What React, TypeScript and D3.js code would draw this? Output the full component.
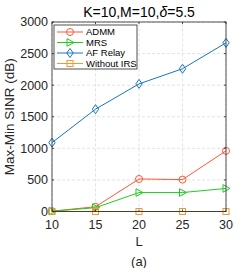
import React from 'react';
import * as d3 from 'd3';

const L = [10, 15, 20, 25, 30];
const admm = [5, 75, 515, 505, 960];
const mrs = [5, 60, 300, 300, 365];
const afRelay = [1090, 1620, 2020, 2260, 2670];
const withoutIrs = [0, 0, 0, 0, 0];
const yTicks = [0, 500, 1000, 1500, 2000, 2500, 3000];

const series = [
  { name: 'ADMM', values: admm, color: '#ff5533', marker: 'circle' },
  { name: 'MRS', values: mrs, color: '#22cc22', marker: 'triangle' },
  { name: 'AF Relay', values: afRelay, color: '#1a74c0', marker: 'diamond' },
  { name: 'Without IRS', values: withoutIrs, color: '#ec9a34', marker: 'square' },
];

const font = 'Liberation Sans, Arial, sans-serif';

function Marker({ type, x, y, color }: { type: string; x: number; y: number; color: string }) {
  const common = { fill: 'none', stroke: color, strokeWidth: 1 };
  if (type === 'circle') return <circle cx={x} cy={y} r={3.5} {...common} />;
  if (type === 'square') return <rect x={x - 3} y={y - 3} width={6} height={6} {...common} />;
  if (type === 'diamond')
    return <path d={`M${x},${y - 4.5}L${x + 3.2},${y}L${x},${y + 4.5}L${x - 3.2},${y}Z`} {...common} />;
  return <path d={`M${x - 3},${y - 3.8}L${x + 4},${y}L${x - 3},${y + 3.8}Z`} {...common} />;
}

export default function App() {
  const margin = { left: 52, right: 23, top: 22, bottom: 56.5 };
  const width = 249;
  const height = 268;

  const x = d3.scaleLinear().domain([10, 30]).range([margin.left, width - margin.right]);
  const y = d3.scaleLinear().domain([0, 3000]).range([height - margin.bottom, margin.top]);

  const line = d3
    .line<number>()
    .x((_, i) => x(L[i]))
    .y((d) => y(d));

  const [x0, x1] = x.range();
  const [y0, y1] = y.range();

  return (
    <svg
      width={width}
      height={height}
      style={{ position: 'absolute', left: 0, top: 0, background: '#fff' }}
      fontFamily={font}
    >
      {/* grid */}
      {L.map((t) => (
        <line key={'gx' + t} x1={x(t)} x2={x(t)} y1={y0} y2={y1} stroke="#dcdcdc" strokeDasharray="3,2" strokeWidth={0.8} />
      ))}
      {yTicks.map((t) => (
        <line key={'gy' + t} x1={x0} x2={x1} y1={y(t)} y2={y(t)} stroke="#dcdcdc" strokeDasharray="3,2" strokeWidth={0.8} />
      ))}

      {/* lines */}
      {series.map((s) => (
        <g key={s.name}>
          <path d={line(s.values) || ''} fill="none" stroke={s.color} strokeWidth={1} />
          {s.values.map((v, i) => (
            <Marker key={i} type={s.marker} x={x(L[i])} y={y(v)} color={s.color} />
          ))}
        </g>
      ))}

      {/* box + ticks */}
      <rect x={x0} y={y1} width={x1 - x0} height={y0 - y1} fill="none" stroke="#262626" strokeWidth={0.8} />
      {L.map((t) => (
        <g key={'tx' + t}>
          <line x1={x(t)} x2={x(t)} y1={y0} y2={y0 - 2} stroke="#262626" strokeWidth={0.8} />
          <line x1={x(t)} x2={x(t)} y1={y1} y2={y1 + 2} stroke="#262626" strokeWidth={0.8} />
          <text x={x(t)} y={y0 + 17} textAnchor="middle" fontSize={12.5} fill="#262626">
            {t}
          </text>
        </g>
      ))}
      {yTicks.map((t) => (
        <g key={'ty' + t}>
          <line x1={x0} x2={x0 + 2} y1={y(t)} y2={y(t)} stroke="#262626" strokeWidth={0.8} />
          <line x1={x1} x2={x1 - 2} y1={y(t)} y2={y(t)} stroke="#262626" strokeWidth={0.8} />
          <text x={x0 - 4} y={y(t)} dy="0.35em" textAnchor="end" fontSize={12.5} fill="#262626">
            {t}
          </text>
        </g>
      ))}

      {/* labels */}
      <text x={(x0 + x1) / 2} y={246} textAnchor="middle" fontSize={13} fill="#262626">
        L
      </text>
      <text x={(x0 + x1) / 2} y={266} textAnchor="middle" fontSize={13} fill="#262626">
        (a)
      </text>
      <text
        transform={`translate(14,${(y0 + y1) / 2}) rotate(-90)`}
        textAnchor="middle"
        fontSize={13.5}
        fill="#262626"
      >
        Max-Min SINR (dB)
      </text>
      <text x={(x0 + x1) / 2} y={16.5} textAnchor="middle" fontSize={14} fill="#000">
        K=10,M=10,<tspan fontStyle="italic">δ</tspan>=5.5
      </text>

      {/* legend */}
      <g transform={`translate(${x0 + 2},${y1 + 3})`}>
        <rect x={0} y={0} width={83} height={44} fill="#fff" stroke="#262626" strokeWidth={0.8} />
        {series.map((s, i) => (
          <g key={s.name} transform={`translate(0,${7 + i * 10.5})`}>
            <line x1={3} x2={29} y1={0} y2={0} stroke={s.color} strokeWidth={1} />
            <Marker type={s.marker} x={16} y={0} color={s.color} />
            <text x={32} y={0} dy="0.35em" fontSize={9.5} fill="#000">
              {s.name}
            </text>
          </g>
        ))}
      </g>
    </svg>
  );
}
